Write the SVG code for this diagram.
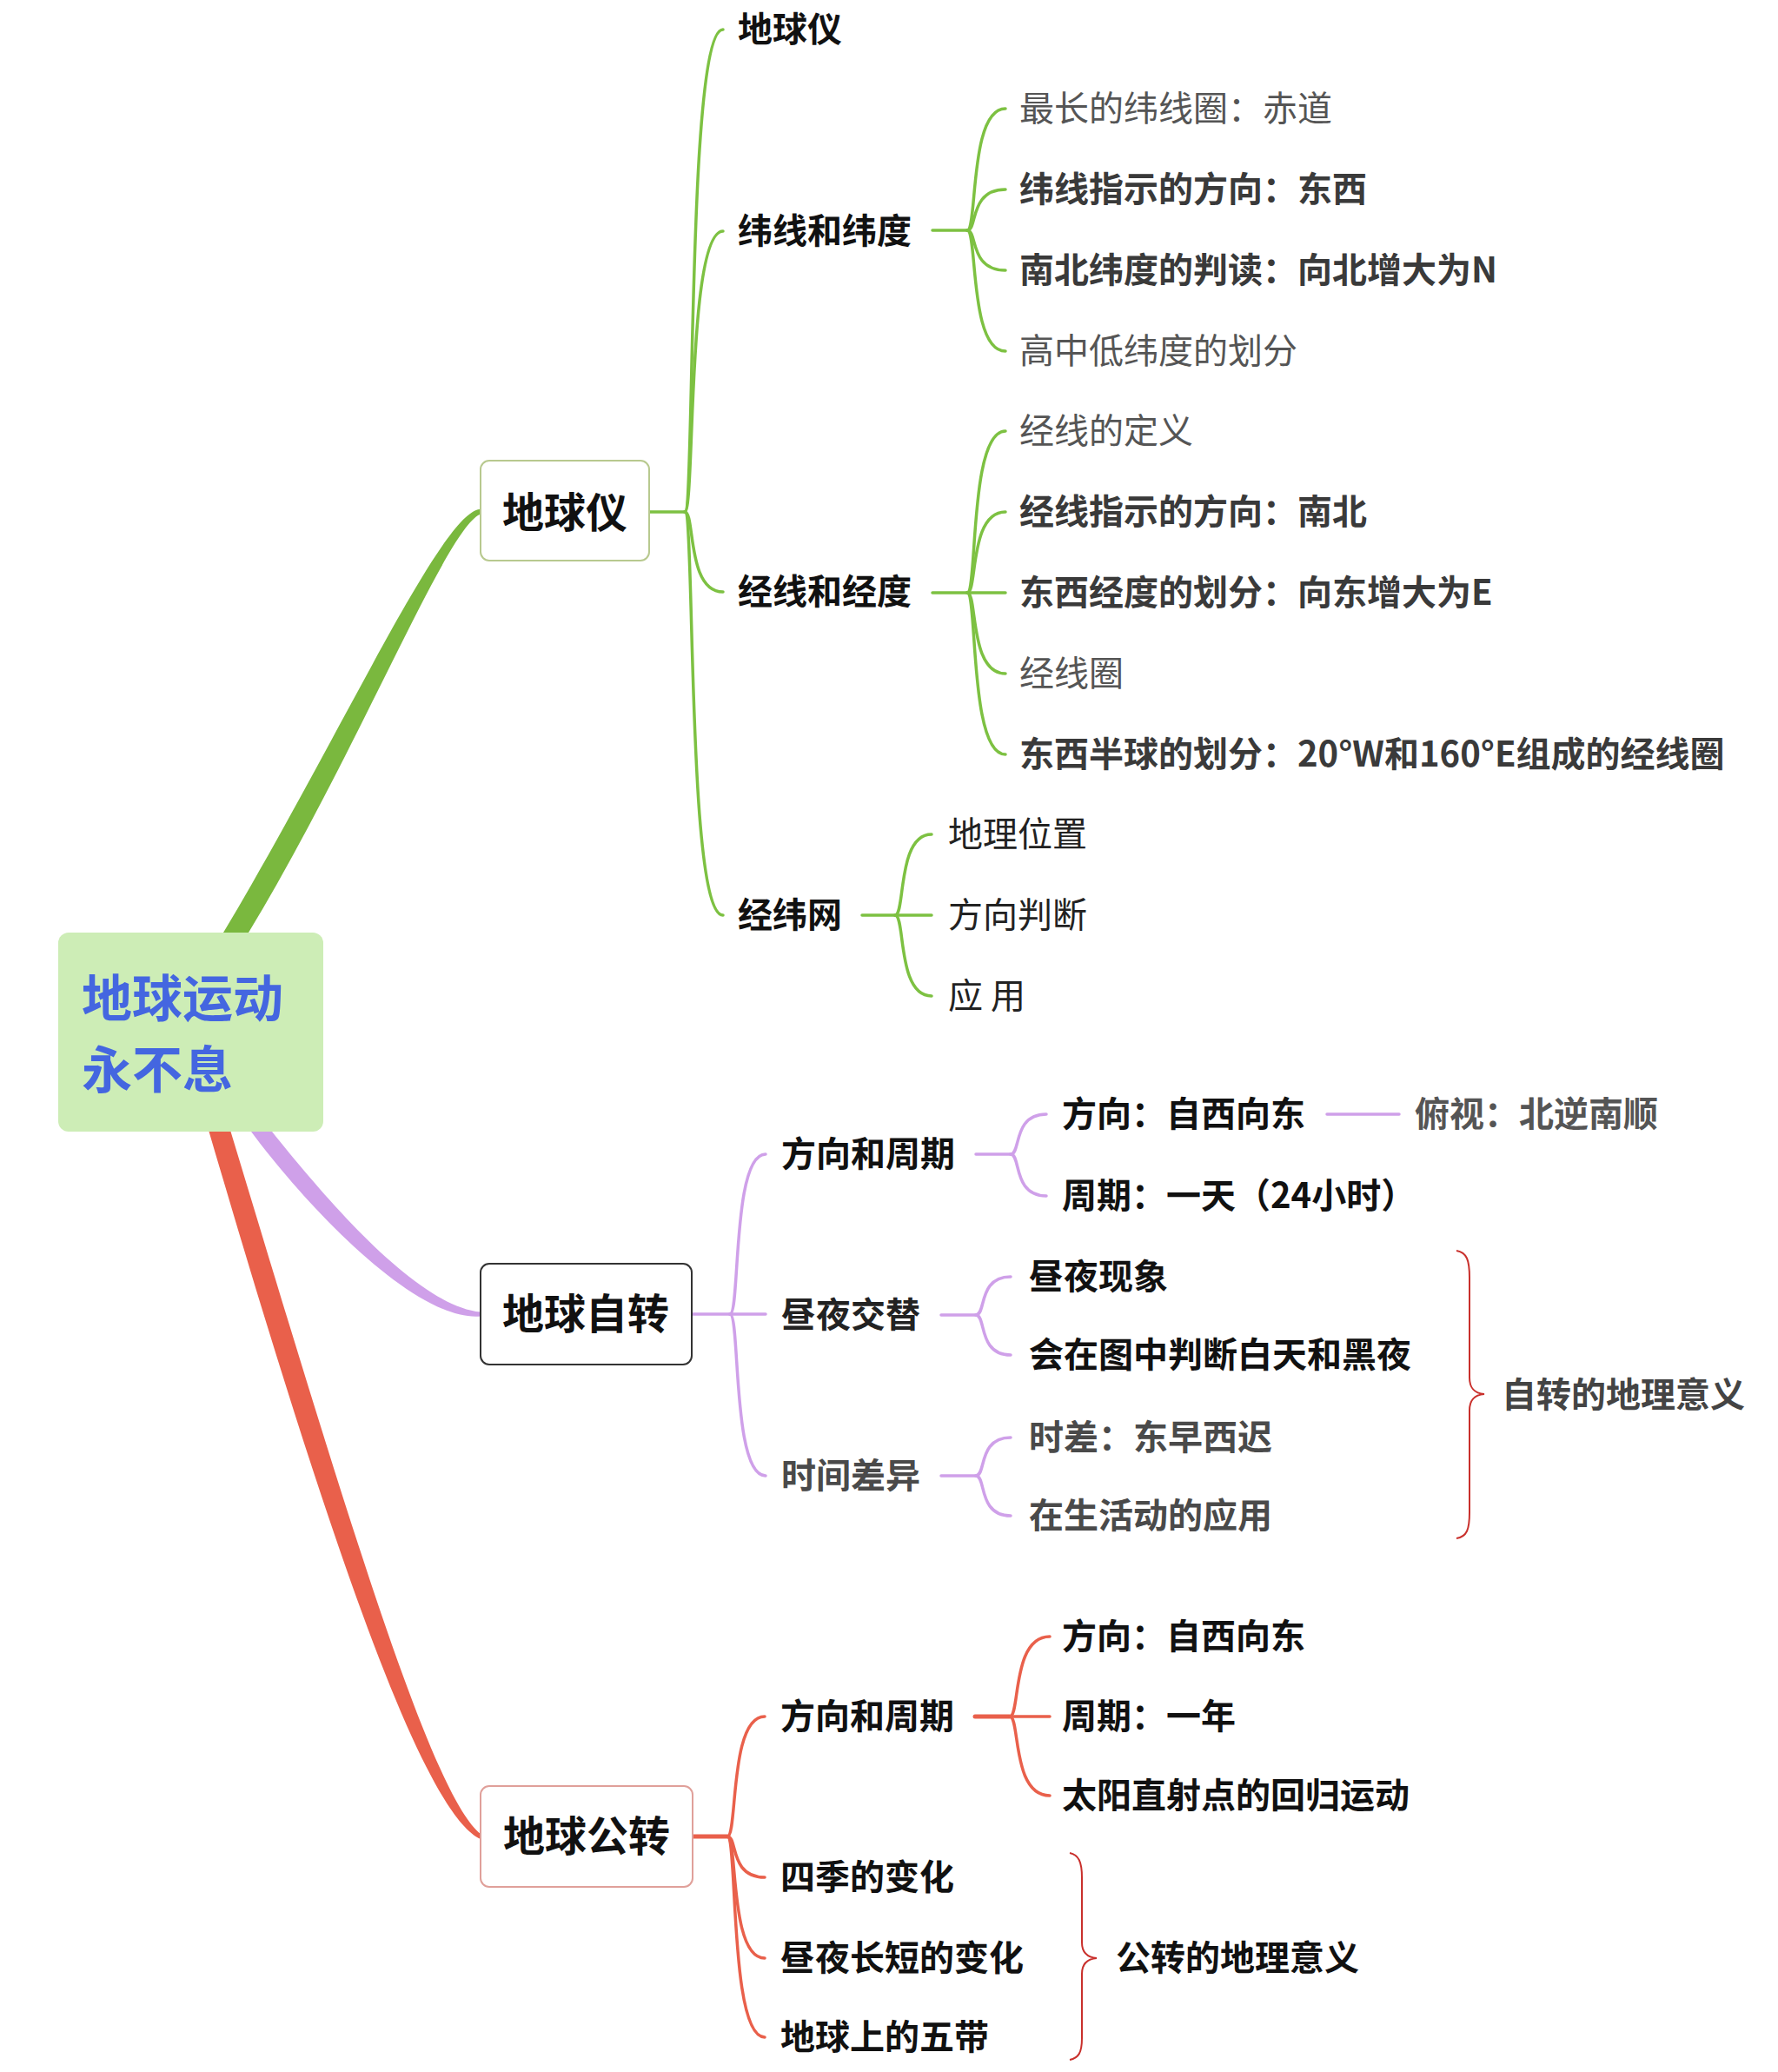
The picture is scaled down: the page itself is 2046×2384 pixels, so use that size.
<svg xmlns="http://www.w3.org/2000/svg" width="2046" height="2384" viewBox="0 0 2046 2384">
<style>
text{font-family:"Noto Sans CJK SC","Noto Sans",sans-serif;font-size:40px;}
.b{font-weight:700;}
.r{font-weight:400;}
.k{fill:#111;}
.d{fill:#3a3a3a;}
.g{fill:#555;}
.g2{fill:#4a4a4a;}
.l1{font-size:48px;font-weight:700;fill:#111;text-anchor:middle;}
.root{font-size:58px;font-weight:700;fill:#4466e0;}
.gr{fill:none;stroke:#7dc142;stroke-width:3.5;stroke-linecap:round;}
.pu{fill:none;stroke:#cfa0e9;stroke-width:3.5;stroke-linecap:round;}
.rd{fill:none;stroke:#e9604b;stroke-width:3.5;stroke-linecap:round;}
.stub{stroke-width:5;}
.brace{fill:none;stroke:#c9302c;stroke-width:2;}
</style>
<rect width="2046" height="2384" fill="#ffffff"/>
<g id="connectors">
  <path d="M257,1073 C389,853 507.5,590 552,586 L552,592 C512.5,610 411,867 286,1073 Z" fill="#7ab83e"/>
  <path d="M289,1302 C356,1392 480,1521 553,1514.5 L553,1509.5 C480,1503 374,1378 313,1302 Z" fill="#cfa0e9"/>
  <path d="M240.5,1302 C372,1750 484,2085 553,2116 L553,2110 C496,2065 398,1740 265.5,1302 Z" fill="#e9604b"/>
  <!-- 地球仪 branches -->
  <path class="gr" d="M747,589 H788"/>
  <path class="gr" d="M788,589 C800,589 790,34 832,34"/>
  <path class="gr" d="M788,589 C800,589 790,266 832,266"/>
  <path class="gr" d="M788,589 C800,589 790,681 832,681"/>
  <path class="gr" d="M788,589 C800,589 790,1053 832,1053"/>
  <path class="gr" d="M1073,265 H1113"/>
  <path class="gr" d="M1113,265 C1125,265 1115,125 1157,125"/>
  <path class="gr" d="M1113,265 C1125,265 1115,218 1157,218"/>
  <path class="gr" d="M1113,265 C1125,265 1115,311 1157,311"/>
  <path class="gr" d="M1113,265 C1125,265 1115,404 1157,404"/>
  <path class="gr" d="M1073,682 H1113"/>
  <path class="gr" d="M1113,682 C1125,682 1115,496 1157,496"/>
  <path class="gr" d="M1113,682 C1125,682 1115,589 1157,589"/>
  <path class="gr" d="M1113,682 H1157"/>
  <path class="gr" d="M1113,682 C1125,682 1115,775 1157,775"/>
  <path class="gr" d="M1113,682 C1125,682 1115,868 1157,868"/>
  <path class="gr" d="M992,1053 H1030"/>
  <path class="gr" d="M1030,1053 C1042,1053 1032,960 1072,960"/>
  <path class="gr" d="M1030,1053 H1072"/>
  <path class="gr" d="M1030,1053 C1042,1053 1032,1146 1072,1146"/>
  <!-- 地球自转 branches -->
  <path class="pu" d="M797,1512 H840"/>
  <path class="pu" d="M840,1512 C852,1512 842,1328 881,1328"/>
  <path class="pu" d="M840,1512 H881"/>
  <path class="pu" d="M840,1512 C852,1512 842,1698 881,1698"/>
  <path class="pu" d="M1123,1328 H1163"/>
  <path class="pu" d="M1163,1328 C1175,1328 1165,1282 1204,1282"/>
  <path class="pu" d="M1163,1328 C1175,1328 1165,1376 1204,1376"/>
  <path class="pu" d="M1527,1282 H1610"/>
  <path class="pu" d="M1083,1513 H1123"/>
  <path class="pu" d="M1123,1513 C1135,1513 1125,1469 1163,1469"/>
  <path class="pu" d="M1123,1513 C1135,1513 1125,1559 1163,1559"/>
  <path class="pu" d="M1083,1698 H1123"/>
  <path class="pu" d="M1123,1698 C1135,1698 1125,1654 1163,1654"/>
  <path class="pu" d="M1123,1698 C1135,1698 1125,1744 1163,1744"/>
  <!-- 地球公转 branches -->
  <path class="rd stub" d="M797,2113 H837"/>
  <path class="rd" d="M837,2113 C849,2113 839,1975 880,1975"/>
  <path class="rd" d="M837,2113 C849,2113 839,2160 880,2160"/>
  <path class="rd" d="M837,2113 C849,2113 839,2253 880,2253"/>
  <path class="rd" d="M837,2113 C849,2113 839,2344 880,2344"/>
  <path class="rd stub" d="M1122,1975 H1162"/>
  <path class="rd" d="M1162,1975 C1174,1975 1164,1883 1208,1883"/>
  <path class="rd" d="M1162,1975 H1208"/>
  <path class="rd" d="M1162,1975 C1174,1975 1164,2066 1208,2066"/>
  <!-- braces -->
  <path class="brace" d="M1676,1439 C1688,1441 1691,1450 1691,1470 L1691,1585 C1691,1598 1697,1603 1708,1604 C1697,1605 1691,1610 1691,1623 L1691,1740 C1691,1760 1688,1768 1676,1770"/>
  <path class="brace" d="M1231,2132 C1241,2134 1245,2142 1245,2160 L1245,2235 C1245,2247 1251,2252 1262,2253 C1251,2254 1245,2259 1245,2271 L1245,2345 C1245,2362 1241,2368 1231,2370"/>
</g>
<g id="root">
  <rect x="67" y="1073" width="305" height="229" rx="12" fill="#cdedb6"/>
  <text class="root" x="94" y="1170">地球运动</text>
  <text class="root" x="94" y="1252">永不息</text>
</g>
<g id="n-diqiuyi">
  <rect x="553" y="530" width="194" height="115" rx="10" fill="#fff" stroke="#b8c98f" stroke-width="2"/>
  <text class="l1" x="650" y="607">地球仪</text>
</g>
<g id="n-zizhuan">
  <rect x="553" y="1454" width="243" height="116" rx="10" fill="#fff" stroke="#333" stroke-width="2"/>
  <text class="l1" x="674" y="1529">地球自转</text>
</g>
<g id="n-gongzhuan">
  <rect x="553" y="2055" width="244" height="116" rx="10" fill="#fff" stroke="#e0a09a" stroke-width="2"/>
  <text class="l1" x="675" y="2130">地球公转</text>
</g>
<g id="n-dqy-sub">
  <text class="b k" x="849" y="48">地球仪</text>
  <text class="b k" x="849" y="280">纬线和纬度</text>
  <text class="b k" x="849" y="695">经线和经度</text>
  <text class="b k" x="849" y="1067">经纬网</text>
</g>
<g id="n-weixian">
  <text class="r g" x="1173" y="139">最长的纬线圈：赤道</text>
  <text class="b d" x="1173" y="232">纬线指示的方向：东西</text>
  <text class="b d" x="1173" y="325">南北纬度的判读：向北增大为N</text>
  <text class="r g" x="1173" y="418">高中低纬度的划分</text>
</g>
<g id="n-jingxian">
  <text class="r g" x="1173" y="510">经线的定义</text>
  <text class="b d" x="1173" y="603">经线指示的方向：南北</text>
  <text class="b d" x="1173" y="696">东西经度的划分：向东增大为E</text>
  <text class="r g" x="1173" y="789">经线圈</text>
  <text class="b d" x="1173" y="882">东西半球的划分：20°W和160°E组成的经线圈</text>
</g>
<g id="n-jingweiwang">
  <text class="r" fill="#222" x="1091" y="974">地理位置</text>
  <text class="r" fill="#222" x="1091" y="1067">方向判断</text>
  <text class="r" fill="#222" x="1091" y="1160">应 用</text>
</g>
<g id="n-zizhuan-sub">
  <text class="b k" x="899" y="1342">方向和周期</text>
  <text class="b" fill="#222" x="899" y="1527">昼夜交替</text>
  <text class="b g2" x="899" y="1712">时间差异</text>
  <text class="b k" x="1222" y="1296">方向：自西向东</text>
  <text class="b k" x="1222" y="1390">周期：一天（24小时）</text>
  <text class="b g" x="1628" y="1296">俯视：北逆南顺</text>
  <text class="b k" x="1184" y="1483">昼夜现象</text>
  <text class="b k" x="1184" y="1573">会在图中判断白天和黑夜</text>
  <text class="b g2" x="1184" y="1668">时差：东早西迟</text>
  <text class="b g2" x="1184" y="1758">在生活动的应用</text>
  <text class="b" fill="#444" x="1728" y="1619">自转的地理意义</text>
</g>
<g id="n-gongzhuan-sub">
  <text class="b k" x="898" y="1989">方向和周期</text>
  <text class="b k" x="898" y="2174">四季的变化</text>
  <text class="b k" x="898" y="2267">昼夜长短的变化</text>
  <text class="b k" x="898" y="2358">地球上的五带</text>
  <text class="b k" x="1222" y="1897">方向：自西向东</text>
  <text class="b k" x="1222" y="1989">周期：一年</text>
  <text class="b k" x="1222" y="2080">太阳直射点的回归运动</text>
  <text class="b k" x="1284" y="2267">公转的地理意义</text>
</g>
</svg>
